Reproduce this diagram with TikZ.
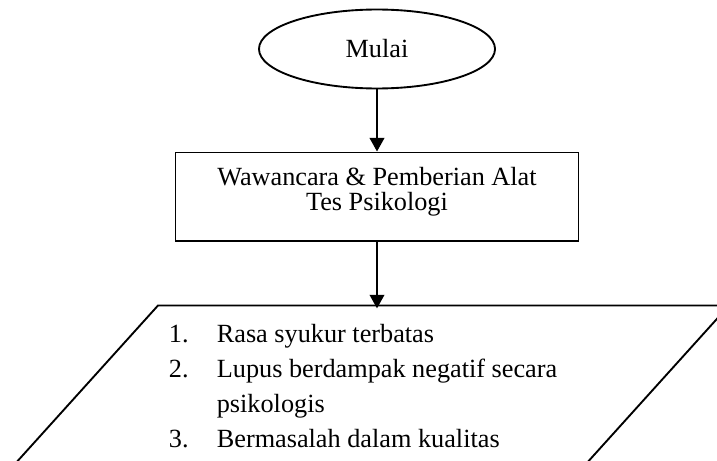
\documentclass[tikz,border=0pt]{standalone}
\usepackage{fontspec}
\setmainfont{Liberation Serif}
\usetikzlibrary{shapes.geometric,positioning,arrows.meta}

\begin{document}
\begin{tikzpicture}[
    x=0.48pt, y=-0.48pt,
    line width=0.9pt,
    mulaibox/.style={ellipse, draw, minimum width=113.3pt, minimum height=37.9pt, inner sep=0pt, font=\fontsize{12.6}{12}\selectfont},
    prosesbox/.style={rectangle, draw, minimum width=193.4pt, minimum height=42.7pt, inner sep=0pt, text depth=7.6pt, align=center, font=\fontsize{12.6}{12}\selectfont},
    listtext/.style={anchor=base west, inner sep=0pt, font=\fontsize{12.6}{16.8}\selectfont},
    panah/.style={-{Triangle[length=6.5pt, width=7pt]}}
]
    \useasboundingbox (0,0) rectangle (717,461);
    \node[mulaibox] (mulai) at (377,49) {Mulai};
    \node[prosesbox, below=29.8pt of mulai] (wawancara) {Wawancara \& Pemberian Alat\\Tes Psikologi};
    \coordinate[below=31.7pt of wawancara] (hasil);
    
    % parallelogram, cut off by the page edges
    \draw (158,305.5) -- (729,305.5) -- (580.5,470) -- (9.5,470) -- cycle;
    \node[listtext] (daftar) at (168,342) {%
        \begin{tabular}[t]{@{}p{23pt}@{}l@{}}
            1. & Rasa syukur terbatas\\
            2. & Lupus berdampak negatif secara\\
               & psikologis\\
            3. & Bermasalah dalam kualitas
        \end{tabular}};
    
    \draw[panah] (mulai) -- (wawancara);
    \draw[panah] (wawancara) -- (hasil);
\end{tikzpicture}
\end{document}
